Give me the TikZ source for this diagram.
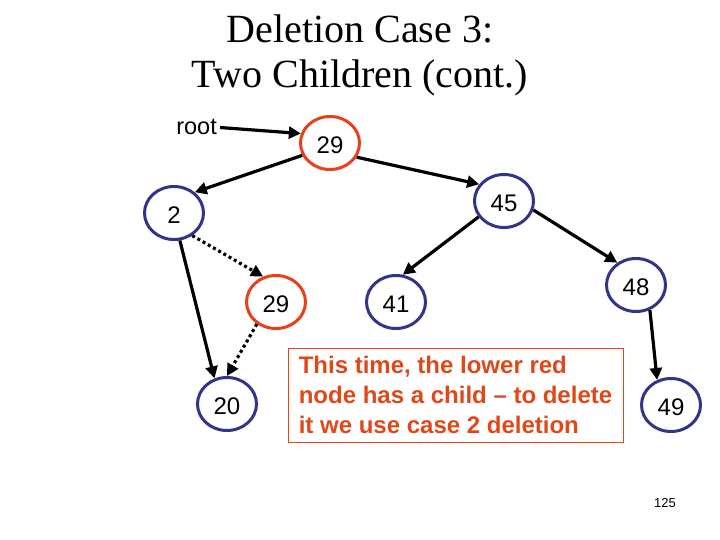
\documentclass[tikz,border=0pt]{standalone}
\usepackage{fontspec}
\setmainfont{Liberation Sans}
\newfontfamily\seriffont{Liberation Serif}
\usetikzlibrary{shapes.geometric,arrows.meta}
\definecolor{nodered}{RGB}{232,64,26}
\definecolor{nodeblue}{RGB}{51,51,138}
\definecolor{boxred}{RGB}{224,72,26}
\begin{document}
\begin{tikzpicture}[x=1pt,y=-1pt,
  tnode/.style={ellipse, line width=3pt, minimum width=59pt, minimum height=53pt,
    inner sep=0pt, fill=white, text height=21.5pt, text depth=0pt,
    font=\fontsize{24}{24}\selectfont},
  rednode/.style={tnode, draw=nodered},
  bluenode/.style={tnode, draw=nodeblue},
  treeedge/.style={line width=3.2pt, -{Triangle[length=12pt,width=12pt]}},
  dotedge/.style={treeedge, dash pattern=on 3pt off 3pt},
  titletext/.style={anchor=base, inner sep=0pt, font=\seriffont\fontsize{40}{45}\selectfont},
  notebox/.style={draw=boxred, line width=1pt, minimum width=335pt, minimum height=94pt,
    align=left, text=boxred, inner sep=0pt,
    font=\bfseries\fontsize{24}{30}\selectfont}]
\useasboundingbox (0,0) rectangle (720,540);
\fill[white] (0,0) rectangle (720,540);

\node[titletext] (t1) at (360,43) {Deletion Case 3:};
\node[titletext] (t2) at (360,88) {Two Children (cont.)};

\node[anchor=base east, inner sep=0pt, font=\fontsize{23.5}{23.5}\selectfont] (root) at (217,135) {root};

\node[rednode]  (n29) at (330,143) {29};
\node[bluenode] (n2)  at (174,213) {2};
\node[bluenode] (n45) at (504,201) {45};
\node[rednode]  (m29) at (276,302) {29};
\node[bluenode] (n41) at (396,302) {41};
\node[bluenode] (n48) at (636,285) {48};
\node[bluenode] (n20) at (227,404) {20};
\node[bluenode] (n49) at (671,405) {49};

\draw[treeedge] ([xshift=3pt]root.east) -- (n29.162);
\draw[treeedge] (n29.204) -- (n2.45);
\draw[treeedge] (n29.-28) -- (n45.146);
\draw[treeedge] (n45.212) -- (n41.76);
\draw[treeedge] (n45.-17) -- (n48.130);
\draw[treeedge] (n48.-61) -- (n49.119);
\draw[treeedge] (n2.-78) -- (n20.116);
\draw[dotedge] (n2.-51) -- (m29.117);
\draw[dotedge] (m29.229) -- (n20.90);

\node[notebox] (note) at (455.5,395) {This time, the lower red\\node has a child – to delete\\it we use case 2 deletion};

\node[font=\fontsize{13}{13}\selectfont] (page) at (665,503) {125};
\end{tikzpicture}
\end{document}
